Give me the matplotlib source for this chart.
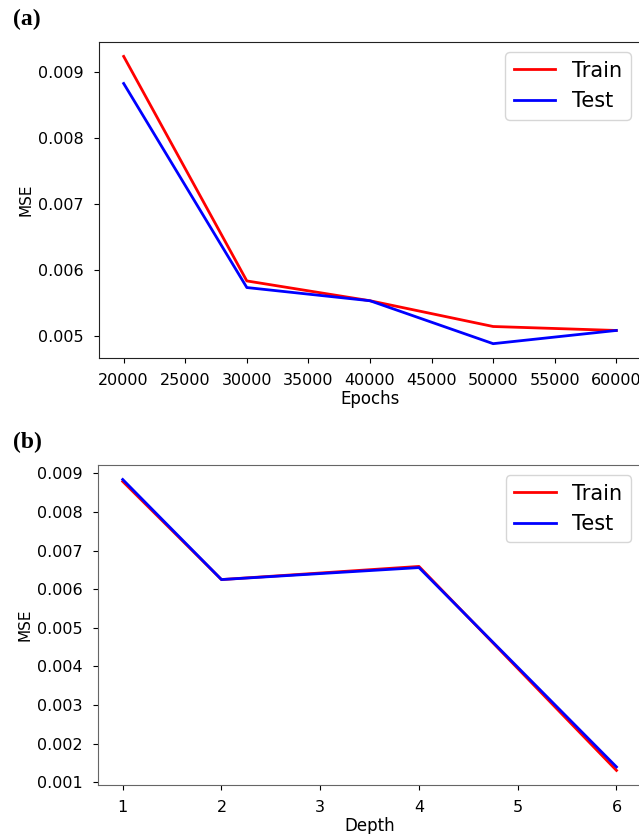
import matplotlib
matplotlib.use("Agg")
import matplotlib.pyplot as plt

# panel (a): MSE vs training epochs
epochs = [20000, 30000, 40000, 50000, 60000]
train_a = [0.00923, 0.00583, 0.00553, 0.00514, 0.00508]
test_a = [0.00882, 0.00573, 0.00553, 0.00488, 0.00508]

# panel (b): MSE vs network depth
depths = [1, 2, 4, 6]
train_b = [0.00879, 0.00625, 0.00659, 0.00131]
test_b = [0.00884, 0.00625, 0.00656, 0.00140]

fig = plt.figure(figsize=(6.39, 8.34), dpi=100)
ax_a = fig.add_axes([0.155, 0.5707, 0.848, 0.3789])
ax_b = fig.add_axes([0.1534, 0.0588, 0.850, 0.3837])

for ax, x, tr, te, xlabel, spine_col in [
        (ax_a, epochs, train_a, test_a, "Epochs", "#222222"),
        (ax_b, depths, train_b, test_b, "Depth", "#666666")]:
    ax.plot(x, tr, color="red", lw=2, label="Train")
    ax.plot(x, te, color="blue", lw=2, label="Test")
    ax.set_xlabel(xlabel, fontsize=12, labelpad=1)
    ax.set_ylabel("MSE", fontsize=11, labelpad=3)
    ax.tick_params(labelsize=11.5, pad=7.5)
    for s in ax.spines.values():
        s.set_color(spine_col)
    ax.legend(loc="upper right", fontsize=15, handlelength=2.0)

ax_b.set_xticks(range(1, 7))

fig.text(0.02, 0.977, "(a)", fontsize=17, fontweight="bold",
         family="Liberation Serif", va="center")
fig.text(0.02, 0.469, "(b)", fontsize=17, fontweight="bold",
         family="Liberation Serif", va="center")

fig.savefig("out.png", dpi=100)
